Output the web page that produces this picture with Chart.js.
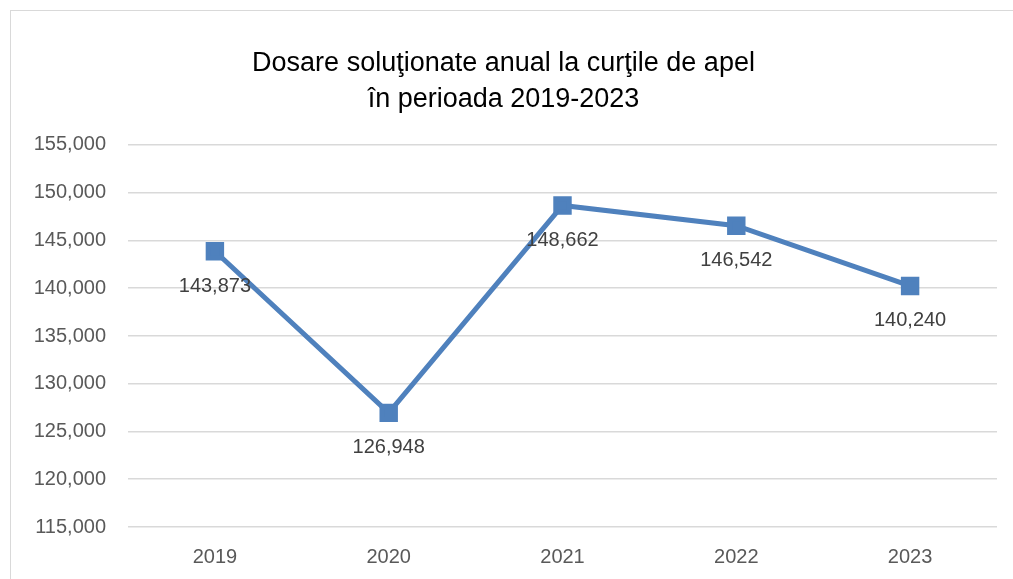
<!DOCTYPE html>
<html>
<head>
<meta charset="utf-8">
<script src="https://cdn.jsdelivr.net/npm/chart.js@4"></script>
<style>
  html, body { margin: 0; padding: 0; background: #fff; }
  #wrap { position: relative; width: 1013px; height: 579px; overflow: hidden; }
  #frame { position: absolute; left: 10px; top: 10px; width: 1100px; height: 700px; border: 1px solid #d9d9d9; box-sizing: border-box; }
  #energyChart { position: absolute; left: 0; top: 0; }
</style>
</head>
<body>
<div id="wrap">
  <div id="frame"></div>
  <canvas id="energyChart" width="1013" height="579"></canvas>
</div>
<script>
  const years = ["2019", "2020", "2021", "2022", "2023"];
  const solved = [143873, 126948, 148662, 146542, 140240];
  const yTicks = [115000, 120000, 125000, 130000, 135000, 140000, 145000, 150000, 155000];
  const titleLines = ["Dosare soluţionate anual la curţile de apel", "în perioada 2019-2023"];

  const fmt = (v) => v.toLocaleString("en-US");

  // labels under each point, like Excel's "below" position
  const belowLabels = {
    id: "belowLabels",
    afterDatasetsDraw(chart) {
      const ctx = chart.ctx;
      const meta = chart.getDatasetMeta(0);
      ctx.save();
      ctx.font = "20px 'Liberation Sans', Arial, sans-serif";
      ctx.fillStyle = "#404040";
      ctx.textAlign = "center";
      ctx.textBaseline = "middle";
      meta.data.forEach((pt, i) => {
        ctx.fillText(fmt(solved[i]), pt.x, pt.y + 35);
      });
      ctx.restore();
    },
  };

  const ctx = document.getElementById("energyChart");

  new Chart(ctx, {
    type: "line",
    data: {
      labels: years,
      datasets: [
        {
          data: solved,
          borderColor: "#4f81bd",
          backgroundColor: "#4f81bd",
          borderWidth: 5,
          pointStyle: "rect",
          pointRadius: 9.5,
          pointHoverRadius: 9.5,
          tension: 0,
        },
      ],
    },
    options: {
      responsive: false,
      animation: false,
      layout: { padding: { left: 10, right: 16, top: 0, bottom: 0 } },
      plugins: {
        legend: { display: false },
        tooltip: { enabled: false },
        title: {
          display: true,
          text: titleLines,
          color: "#000",
          font: { family: "'Liberation Sans', Arial, sans-serif", size: 27, weight: "normal", lineHeight: 1.333 },
          padding: { top: 46, bottom: 27 },
        },
      },
      scales: {
        x: {
          offset: true,
          grid: { display: false, drawTicks: false },
          border: { display: false },
          ticks: {
            color: "#595959",
            font: { family: "'Liberation Sans', Arial, sans-serif", size: 20 },
            padding: 18,
          },
          afterFit(scale) { scale.height = 52; },
        },
        y: {
          min: 115000,
          max: 155000,
          afterBuildTicks(scale) { scale.ticks = yTicks.map((v) => ({ value: v })); },
          grid: { color: "#d9d9d9", lineWidth: 1.5, drawTicks: false },
          border: { display: false },
          ticks: {
            color: "#595959",
            font: { family: "'Liberation Sans', Arial, sans-serif", size: 20 },
            padding: 22,
            callback: (v) => fmt(v),
          },
          afterFit(scale) { scale.width = 118; },
        },
      },
    },
    plugins: [belowLabels],
  });
</script>
</body>
</html>
